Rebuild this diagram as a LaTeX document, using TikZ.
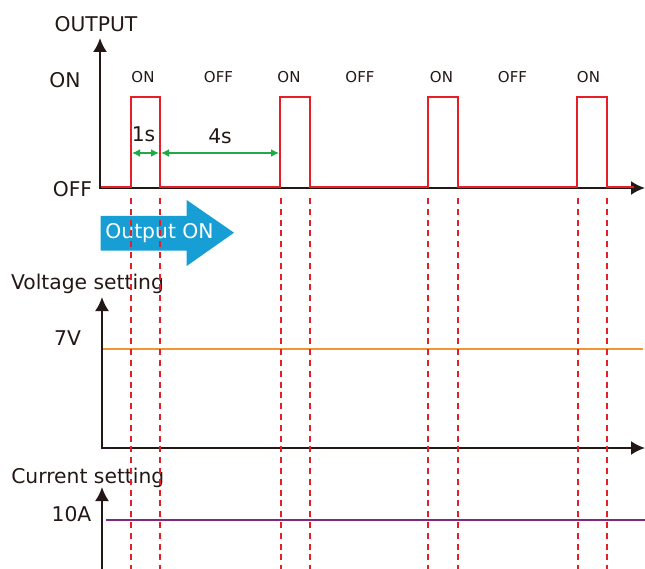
\documentclass[tikz,border=0pt]{standalone}
\usepackage{fontspec}
\setmainfont{DejaVu Sans}
\usetikzlibrary{arrows.meta}
\definecolor{axisblack}{RGB}{35,24,21}
\definecolor{pulsered}{RGB}{230,30,40}
\definecolor{spangreen}{RGB}{30,170,70}
\definecolor{arrowblue}{RGB}{23,158,212}
\definecolor{voltorange}{RGB}{240,150,50}
\definecolor{currpurple}{RGB}{130,40,130}
\begin{document}
\begin{tikzpicture}[x=1pt, y=-1pt,
    bigtext/.style={font=\fontsize{20.3}{24}\selectfont, anchor=base, inner sep=0pt, text=axisblack},
    smalltext/.style={font=\fontsize{15}{18}\selectfont, anchor=base, inner sep=0pt, text=axisblack},
    axis/.style={draw=axisblack, line width=2pt},
    cutline/.style={draw=pulsered, line width=2pt, dash pattern=on 6pt off 4.8pt},
    timespan/.style={draw=spangreen, line width=1.8pt, {Latex[length=8pt, width=8pt]}-{Latex[length=8pt, width=8pt]}}]
    \useasboundingbox (0,0) rectangle (645,569);

    % output
    \draw[axis, {Latex[length=14pt, width=14pt]}-{Latex[length=14pt, width=14pt]}] (100,38) -- (100,188) -- (645,188);
    \draw[draw=pulsered, line width=1.5pt] (101,187) -- (131,187) -- (131,97) -- (160,97) -- (160,187)
        -- (280,187) -- (280,97) -- (310,97) -- (310,187)
        -- (428,187) -- (428,97) -- (458,97) -- (458,187)
        -- (577,187) -- (577,97) -- (607,97) -- (607,187) -- (634,187);

    \node[bigtext] (OUT) at (96,31.5) {OUTPUT};
    \node[bigtext] (HI) at (65,87.5) {ON};
    \node[bigtext] (LO) at (72.5,196.5) {OFF};

    \node[smalltext] (S1) at (143,82.7) {ON};
    \node[smalltext] (S2) at (218.5,82.7) {OFF};
    \node[smalltext] (S3) at (289,82.7) {ON};
    \node[smalltext] (S4) at (360,82.7) {OFF};
    \node[smalltext] (S5) at (441.5,82.7) {ON};
    \node[smalltext] (S6) at (512.5,82.7) {OFF};
    \node[smalltext] (S7) at (588.5,82.7) {ON};

    \coordinate (A) at (132,153);
    \coordinate (B) at (159,153);
    \coordinate (C) at (161,153);
    \coordinate (D) at (279,153);
    \draw[timespan] (A) -- (B);
    \draw[timespan] (C) -- (D);
    \node[bigtext] (T1) at (143.5,142) {1s};
    \node[bigtext] (T4) at (220,143.5) {4s};

    \fill[arrowblue] (100.5,216) -- (186.7,216) -- (186.7,200) -- (234,232.7)
        -- (186.7,266) -- (186.7,250.7) -- (100.5,250.7) -- cycle;
    \node[bigtext, text=white] (GO) at (159.5,239) {Output ON};

    % voltage
    \node[bigtext] (V) at (87.5,290) {Voltage setting};
    \draw[axis, {Latex[length=14pt, width=14pt]}-{Latex[length=14pt, width=14pt]}] (102,297) -- (102,448) -- (645,448);
    \node[bigtext] (VS) at (67.5,345) {7V};
    \draw[draw=voltorange, line width=2pt] (103,349) -- (643,349);

    % current
    \node[bigtext] (I) at (87.8,483) {Current setting};
    \draw[axis, -{Latex[length=14pt, width=14pt]}] (102,569) -- (102,487);
    \node[bigtext] (IS) at (71.5,521.5) {10A};
    \draw[draw=currpurple, line width=2pt] (106,520) -- (645,520);

    \draw[cutline] (131,198) -- (131,569);
    \draw[cutline] (160,198) -- (160,569);
    \draw[cutline] (281,198) -- (281,569);
    \draw[cutline] (310,198) -- (310,569);
    \draw[cutline] (428,198) -- (428,569);
    \draw[cutline] (458,198) -- (458,569);
    \draw[cutline] (578,198) -- (578,569);
    \draw[cutline] (607,198) -- (607,569);
\end{tikzpicture}
\end{document}
